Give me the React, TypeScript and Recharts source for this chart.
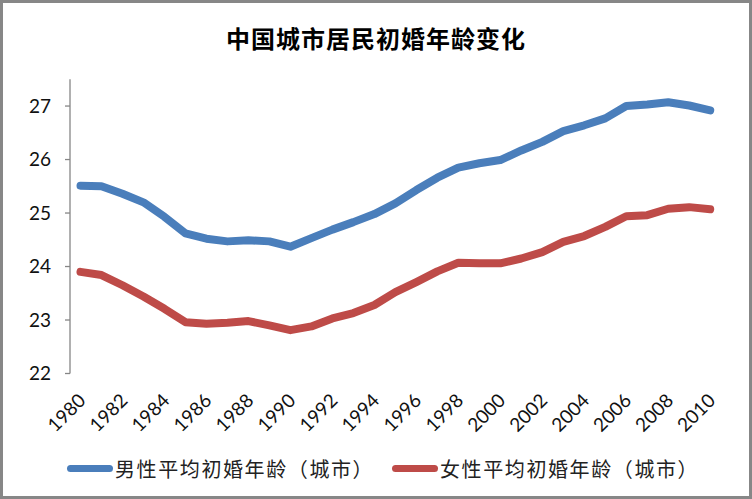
import { LineChart, Line, XAxis, YAxis } from 'recharts'

// 年份（类目）
const years = [
  1980, 1981, 1982, 1983, 1984, 1985, 1986, 1987, 1988, 1989, 1990, 1991, 1992, 1993, 1994, 1995,
  1996, 1997, 1998, 1999, 2000, 2001, 2002, 2003, 2004, 2005, 2006, 2007, 2008, 2009, 2010,
]
const labelYears = [1980, 1982, 1984, 1986, 1988, 1990, 1992, 1994, 1996, 1998, 2000, 2002, 2004, 2006, 2008, 2010]
const yTicks = [22, 23, 24, 25, 26, 27]

const maleAge = [
  25.51, 25.5, 25.36, 25.2, 24.93, 24.62, 24.52, 24.47, 24.49, 24.47, 24.37, 24.53, 24.69, 24.83, 24.98, 25.18,
  25.43, 25.66, 25.85, 25.93, 25.99, 26.17, 26.33, 26.53, 26.64, 26.77, 27.0, 27.03, 27.07, 27.01, 26.92,
]
const femaleAge = [
  23.9, 23.84, 23.65, 23.44, 23.21, 22.96, 22.93, 22.95, 22.98, 22.9, 22.81, 22.88, 23.03, 23.13, 23.28, 23.52,
  23.71, 23.91, 24.07, 24.06, 24.06, 24.15, 24.27, 24.46, 24.57, 24.74, 24.94, 24.96, 25.08, 25.11, 25.07,
]

const TITLE = '中国城市居民初婚年龄变化'
const MALE_NAME = '男性平均初婚年龄（城市）'
const FEMALE_NAME = '女性平均初婚年龄（城市）'
const BLUE = '#4A7EBB'
const RED = '#BE4B48'
const AXIS = '#868686'

const data = years.map((year, i) => ({ year, male: maleAge[i], female: femaleAge[i] }))
// tick marks sit between categories, like Excel
const boundaries = [...years.map((y) => y - 0.5), years[years.length - 1] + 0.5]
const domainX: [number, number] = [boundaries[0], boundaries[boundaries.length - 1]]

const LABEL_DROP = 23

function YearTick({ x, y, payload }: { x: number; y: number; payload: { value: number } }) {
  const ty = y + LABEL_DROP
  return (
    <text
      x={x + 1}
      y={ty}
      transform={`rotate(-45, ${x + 1}, ${ty})`}
      textAnchor="end"
      dominantBaseline="central"
      fontSize={19}
      fontFamily="Lato"
      fill="#111"
    >
      {payload.value}
    </text>
  )
}

function LegendItem({ color, name, left }: { color: string; name: string; left: number }) {
  return (
    <div style={{ position: 'absolute', left, top: 450, display: 'flex', alignItems: 'center', height: 30 }}>
      <div style={{ width: 46, height: 7, borderRadius: 4, background: color, marginRight: 2 }} />
      <span style={{ fontSize: 20, color: '#222', fontFamily: '"Noto Sans CJK SC"', letterSpacing: 1.6 }}>{name}</span>
    </div>
  )
}

export default function App() {
  return (
    <div
      style={{
        position: 'absolute',
        left: 0,
        top: 0,
        width: 752,
        height: 499,
        boxSizing: 'border-box',
        border: '3px solid #878787',
        background: '#fff',
      }}
    >
      <div
        style={{
          position: 'absolute',
          left: 0,
          right: 0,
          top: 17,
          textAlign: 'center',
          fontFamily: '"Noto Sans CJK SC"',
          fontWeight: 700,
          fontSize: 24,
          letterSpacing: 1,
          color: '#000',
        }}
      >
        {TITLE}
      </div>
      <div style={{ position: 'absolute', left: 0, top: 0 }}>
        <LineChart width={746} height={493} data={data} margin={{ top: 76.3, right: 28.3, left: 0, bottom: 0 }}>
          <XAxis
            xAxisId="marks"
            dataKey="year"
            type="number"
            domain={domainX}
            ticks={boundaries}
            tick={false}
            tickSize={5}
            height={0}
            stroke={AXIS}
            axisLine={{ stroke: AXIS, strokeWidth: 1.3 }}
            tickLine={{ stroke: AXIS, strokeWidth: 1.3 }}
          />
          <XAxis
            xAxisId="labels"
            dataKey="year"
            type="number"
            domain={domainX}
            ticks={labelYears}
            interval={0}
            tick={YearTick}
            tickSize={0}
            tickMargin={0}
            height={122.5}
            axisLine={false}
            tickLine={false}
          />
          <YAxis
            domain={[22, 27.5]}
            ticks={yTicks}
            width={67}
            tickSize={5}
            tickMargin={14}
            stroke={AXIS}
            axisLine={{ stroke: AXIS, strokeWidth: 1.3 }}
            tickLine={{ stroke: AXIS, strokeWidth: 1.3 }}
            tick={{ fill: '#111', fontSize: 19, fontFamily: 'Lato' }}
          />
          <Line
            xAxisId="marks"
            dataKey="male"
            name={MALE_NAME}
            stroke={BLUE}
            strokeWidth={8}
            strokeLinecap="round"
            strokeLinejoin="round"
            dot={false}
            isAnimationActive={false}
          />
          <Line
            xAxisId="marks"
            dataKey="female"
            name={FEMALE_NAME}
            stroke={RED}
            strokeWidth={8}
            strokeLinecap="round"
            strokeLinejoin="round"
            dot={false}
            isAnimationActive={false}
          />
        </LineChart>
      </div>
      <LegendItem color={BLUE} name={MALE_NAME} left={64} />
      <LegendItem color={RED} name={FEMALE_NAME} left={389} />
    </div>
  )
}
